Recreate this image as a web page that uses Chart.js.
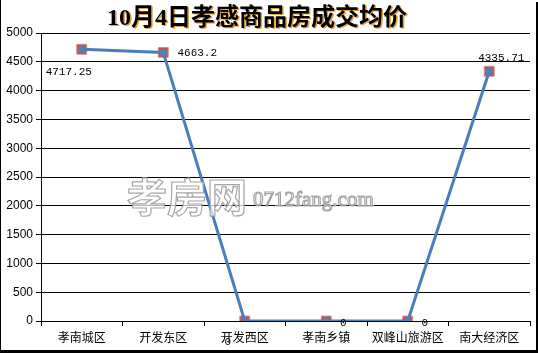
<!DOCTYPE html>
<html>
<head>
<meta charset="utf-8">
<script src="https://cdn.jsdelivr.net/npm/chart.js@4/dist/chart.umd.min.js"></script>
<style>
  html, body { margin: 0; padding: 0; background: #fff; }
  #wrap { width: 538px; height: 353px; }
</style>
</head>
<body>
<div id="wrap"><canvas id="chart" width="538" height="353"></canvas></div>
<script>
// chart data
const categories = ['孝南城区', '开发东区', '开发西区', '孝南乡镇', '双峰山旅游区', '南大经济区'];
const avgPrice = [4717.25, 4663.2, 0, 0, 0, 4335.71];
const yTicks = [0, 500, 1000, 1500, 2000, 2500, 3000, 3500, 4000, 4500, 5000];
const titleText = '10月4日孝感商品房成交均价';

// where each value label sits relative to its point (dx, dy)
const labelOffsets = [[-13, 23], [34, 1], [-17, 21], [17, 2], [17, 2], [12, -13]];

const labelPlugin = {
  id: 'valueLabels',
  afterDatasetsDraw(chart) {
    const ctx = chart.ctx;
    const meta = chart.getDatasetMeta(1);
    ctx.save();
    ctx.font = '11px "Liberation Mono", "DejaVu Sans Mono", monospace';
    ctx.fillStyle = '#000';
    ctx.textAlign = 'center';
    ctx.textBaseline = 'middle';
    meta.data.forEach((pt, i) => {
      const off = labelOffsets[i];
      ctx.fillText(String(avgPrice[i]), pt.x + off[0], pt.y + off[1]);
    });
    ctx.restore();
  }
};

const decoPlugin = {
  id: 'deco',
  afterDraw(chart) {
    const ctx = chart.ctx;
    ctx.save();
    // watermark
    ctx.textBaseline = 'middle';
    ctx.textAlign = 'left';
    ctx.lineWidth = 1.2;
    ctx.strokeStyle = 'rgba(150,150,150,0.85)';
    ctx.fillStyle = 'rgba(255,255,255,0.7)';
    ctx.font = 'bold 40px "Noto Sans CJK SC", sans-serif';
    ctx.fillText('孝房网', 127, 197);
    ctx.strokeText('孝房网', 127, 197);
    ctx.font = '21px "Liberation Serif", "DejaVu Serif", serif';
    ctx.fillText('0712fang.com', 253, 200);
    ctx.strokeText('0712fang.com', 253, 200);

    // title
    ctx.textAlign = 'center';
    ctx.font = 'bold 24px "Liberation Serif", "Noto Sans CJK SC", serif';
    ctx.fillStyle = '#e0a040';
    ctx.fillText(titleText, 258.5, 19.5);
    ctx.fillStyle = '#000';
    ctx.fillText(titleText, 257, 18.5);

    // outer frame
    ctx.fillStyle = '#000';
    ctx.fillRect(0, 0, 1, 353);
    ctx.fillRect(536, 2, 2, 351);
    ctx.fillRect(0, 350, 538, 3);
    ctx.restore();
  }
};

new Chart(document.getElementById('chart'), {
  type: 'line',
  data: {
    labels: categories,
    datasets: [
      {
        label: 'marker',
        data: avgPrice,
        showLine: false,
        pointStyle: 'rect',
        pointRadius: 7,
        pointBackgroundColor: '#c0504d',
        pointBorderColor: '#d88a88',
        pointBorderWidth: 1,
        order: 2
      },
      {
        label: '均价',
        data: avgPrice,
        borderColor: '#4a7ebb',
        borderWidth: 3,
        tension: 0,
        pointStyle: 'circle',
        pointRadius: 3.5,
        pointBorderWidth: 0,
        pointBackgroundColor: '#4f81bd',
        pointBorderColor: '#4f81bd',
        order: 1
      }
    ]
  },
  options: {
    responsive: false,
    animation: false,
    devicePixelRatio: 1,
    layout: { padding: { top: 33, left: 0, right: 3, bottom: 0 } },
    plugins: {
      legend: { display: false },
      title: { display: false },
      tooltip: { enabled: false }
    },
    scales: {
      x: {
        type: 'category',
        offset: true,
        afterFit(scale) { scale.height = 32; },
        grid: {
          offset: true,
          drawOnChartArea: false,
          color: '#000',
          tickLength: 5
        },
        border: { display: true, color: '#000', width: 1 },
        ticks: {
          autoSkip: false,
          maxRotation: 0,
          padding: 4,
          color: '#000',
          font: { family: '"Noto Sans CJK SC", sans-serif', size: 12 }
        }
      },
      y: {
        min: 0,
        max: 5000,
        afterFit(scale) { scale.width = 41; },
        afterBuildTicks(scale) { scale.ticks = yTicks.map(v => ({ value: v })); },
        grid: { color: '#000', tickLength: 5 },
        border: { display: true, color: '#000', width: 1 },
        ticks: {
          padding: 3,
          color: '#000',
          callback: v => String(v),
          font: { family: '"Liberation Sans", Arial, sans-serif', size: 12 }
        }
      }
    }
  },
  plugins: [labelPlugin, decoPlugin]
});
</script>
</body>
</html>
